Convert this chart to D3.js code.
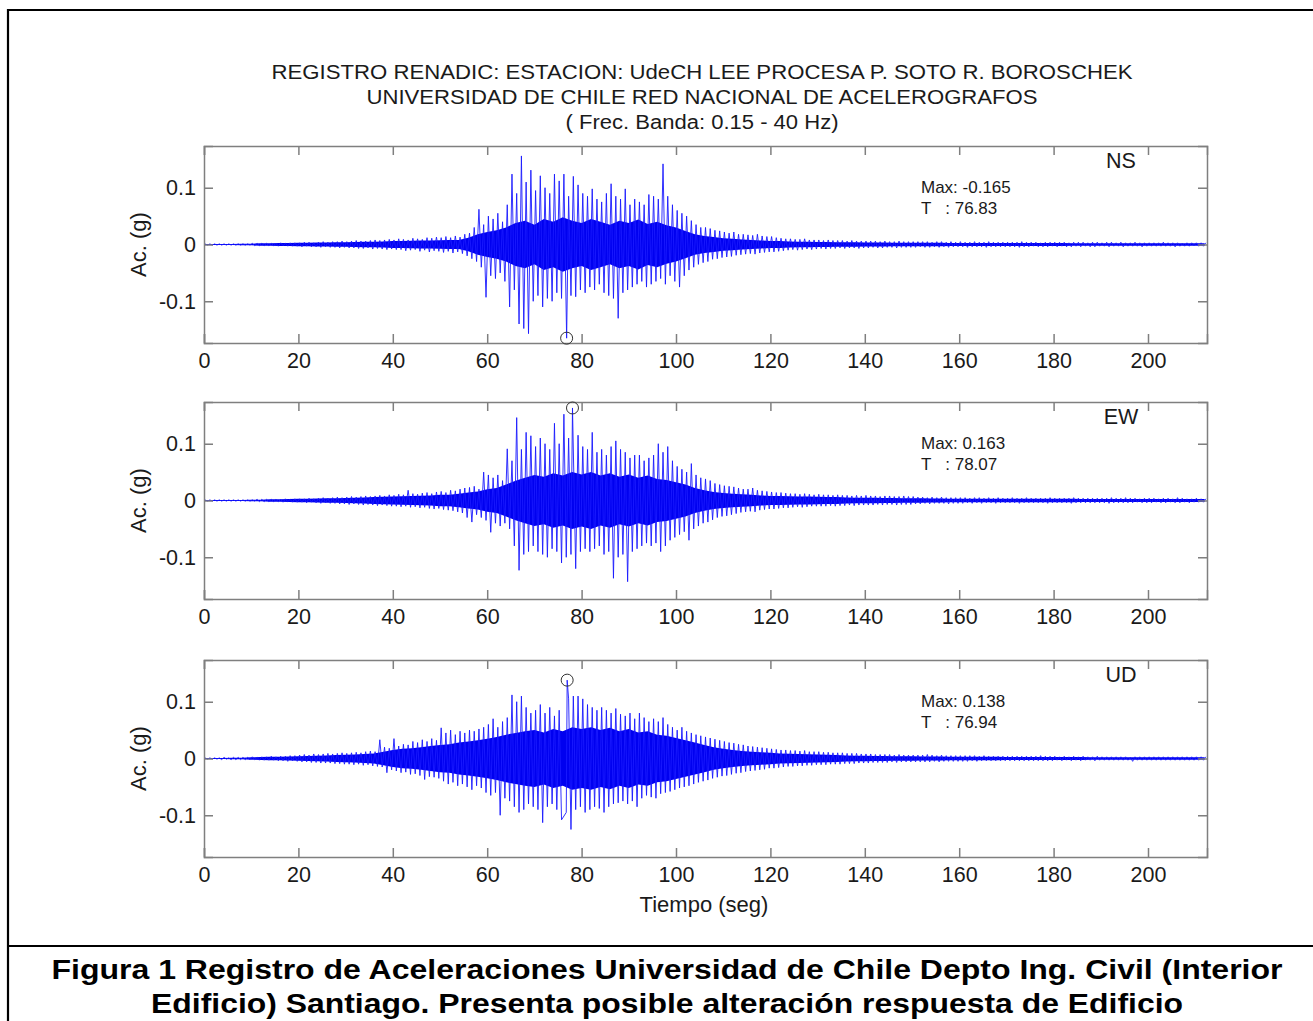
<!DOCTYPE html>
<html>
<head>
<meta charset="utf-8">
<script src="https://cdn.jsdelivr.net/npm/d3@7"></script>
<style>
  body { margin: 0; background: #fff; }
  text { font-family: "Liberation Sans", Arial, sans-serif; }
</style>
</head>
<body>
<svg id="fig" width="1313" height="1021"></svg>
<script>
// envelope of each record, read per second (0..212 s), in thousandths of g
// hi = largest positive peak in that second, lo = largest negative peak (as magnitude)
var nsHi = [1,1,1,1,1,1,1,1,1,1, 2,2,2,2,2,2,3,2,3,3, 3,4,4,3,4,5,4,5,5,6, 5,6,7,6,6,7,8,7,8,9,
  8,10,9,8,11,10,9,12,11,13, 12,14,12,15,13,18,20,30,62,35, 50,45,55,40,70,124,90,156,110,131,
  95,121,100,90,124,112,124,85,120,105, 90,85,98,80,75,90,107,85,80,98, 70,80,75,70,88,85,80,142,85,70,
  60,55,50,42,35,30,30,28,25,24, 22,20,22,18,18,17,16,18,15,14, 14,12,11,10,10,9,9,10,8,8,
  8,7,8,7,7,7,6,7,6,6, 6,6,6,5,6,5,5,6,5,5, 5,5,5,5,4,5,5,4,5,4, 5,4,4,5,4,4,5,4,4,4,
  4,4,4,5,4,4,4,3,4,4, 4,4,4,3,4,4,4,3,4,4, 3,4,4,3,4,3,3,4,3,3, 3,3,3,4,3,3,3,2,3,3,3,3,3];
var nsLo = [1,1,1,1,1,1,1,1,1,1, 2,2,2,2,2,3,2,3,3,3, 4,3,4,4,5,4,5,5,6,5, 6,6,7,7,6,8,7,8,9,8,
  9,9,11,10,9,12,10,13,11,12, 14,12,15,13,16,20,25,30,40,93, 55,60,50,65,110,80,140,148,157,100,
  90,110,95,100,85,95,165,90,92,80, 85,75,80,70,85,90,95,130,85,80, 75,70,65,75,70,65,60,70,55,65,
  75,55,45,40,35,32,30,26,25,23, 22,21,19,18,17,16,17,15,14,13, 13,12,11,10,9,10,9,8,9,8,
  7,8,7,7,6,7,6,6,7,6, 6,5,6,6,5,5,6,5,5,5, 5,4,5,5,4,5,4,5,4,4, 4,5,4,4,4,5,4,4,4,4,
  4,4,5,4,4,3,4,4,4,3, 4,3,4,4,3,4,3,4,4,3, 3,4,3,3,4,3,3,3,4,3, 3,3,3,3,3,4,3,3,3,2,3,3,3];

var ewHi = [1,1,1,1,1,1,1,1,1,1, 1,2,2,2,2,2,2,3,2,3, 3,3,4,3,4,5,4,5,6,5, 6,7,6,7,8,7,8,9,8,10,
  9,11,10,18,12,11,13,14,12,15, 16,14,18,17,20,22,23,25,20,50, 45,40,45,35,91,70,146,90,120,114,
  95,110,100,90,136,100,152,110,163,115, 95,90,120,85,90,80,95,105,90,85, 75,80,80,70,75,80,100,85,95,70,
  60,55,50,65,45,40,38,35,30,28, 26,25,24,22,20,20,22,18,17,16, 15,14,14,13,12,12,11,12,11,10,
  11,10,10,9,10,9,9,8,9,8, 9,8,8,7,8,8,7,7,8,7, 7,6,6,5,6,5,6,5,5,5, 5,5,4,5,5,4,5,4,5,4,
  4,5,4,4,5,4,4,4,4,5, 4,4,4,4,5,4,4,4,4,4, 4,4,5,4,4,5,4,4,3,4, 4,4,3,4,4,3,5,4,3,3,4,3,3];
var ewLo = [1,1,1,1,1,1,1,1,1,1, 1,2,2,2,2,2,3,2,3,3, 3,4,3,4,5,4,5,5,6,6, 7,6,7,8,7,8,9,8,9,10,
  10,11,10,12,11,13,12,14,15,14, 16,17,18,20,22,30,38,25,30,35, 56,40,45,40,50,80,123,95,90,80,
  90,95,100,85,90,110,100,95,120,90, 85,90,85,80,95,90,137,100,95,143, 90,85,80,75,80,75,90,80,70,65,
  60,55,70,50,45,40,38,34,30,28, 27,25,23,21,20,19,20,17,16,15, 15,14,13,13,12,11,12,11,10,10,
  10,10,9,10,9,9,8,9,8,8, 8,8,7,8,7,7,8,7,7,7, 6,6,5,6,5,5,5,6,5,5, 5,4,5,4,5,4,4,5,4,4,
  4,4,5,4,4,4,4,4,5,4, 4,4,4,5,4,4,4,4,4,4, 4,5,4,4,4,4,4,3,4,4, 4,3,4,4,3,4,4,3,4,3,3,3,3];

var udHi = [1,1,1,1,2,1,2,2,2,2, 3,2,3,3,4,3,4,4,5,5, 6,7,6,8,7,8,9,8,9,10, 9,10,11,10,12,13,12,33,20,18,
  35,22,25,24,30,28,33,30,35,32, 54,45,50,42,48,45,50,48,52,55, 60,70,55,65,72,112,100,110,90,80,
  85,95,80,90,75,85,138,105,110,110, 105,95,90,85,90,85,80,88,78,75, 80,70,80,72,65,70,65,72,60,55,
  50,55,48,45,42,40,38,36,34,32, 30,28,27,25,24,22,21,20,19,18, 17,16,15,15,14,14,13,14,12,12,
  12,11,11,10,10,10,9,9,9,8, 8,8,7,7,7,7,6,7,6,6, 6,6,6,7,6,5,6,5,5,5, 5,5,5,5,4,5,4,4,4,4,
  4,4,4,4,4,4,4,5,4,4, 4,3,4,3,4,3,4,3,3,4, 3,3,3,3,3,3,2,3,3,3, 3,3,3,3,3,3,3,3,3,3,3,3,3];
var udLo = [1,1,1,2,1,2,2,2,2,2, 2,3,3,3,3,4,4,5,4,5, 6,6,7,7,8,8,8,9,9,10, 10,11,10,12,11,13,14,15,25,20,
  22,25,24,28,27,30,37,32,33,35, 40,45,42,48,45,50,55,48,52,60, 65,60,100,70,75,85,95,90,80,85,
  90,113,85,80,90,108,95,125,90,85, 95,90,85,88,95,85,80,78,75,80, 75,85,70,65,68,70,62,60,58,55,
  52,50,48,45,42,40,38,35,33,31, 30,28,26,25,23,22,21,20,19,17, 17,16,15,14,14,13,13,12,12,11,
  11,11,10,10,10,9,9,9,8,8, 8,7,7,7,7,6,7,6,6,6, 6,6,6,6,5,6,5,5,5,5, 5,5,4,5,4,4,4,4,4,4,
  4,4,4,4,4,4,4,4,4,4, 3,4,3,4,3,4,3,3,4,3, 3,3,3,3,3,3,5,3,3,3, 3,3,3,3,3,3,3,3,3,3,3,3,3];

// half width of the solid (densely sampled) core of each trace, every 2 s from 0 to 212 s, thousandths of g
var nsCore = [1,1,1,1,1.5,1.5,2,2,2.5,2.5, 3,3,3.5,3.5,4,4,4.5,5,5,5.5, 6,6,6.5,7,7,7.5,8,8,12,18,
  22,25,30,38,42,35,45,40,48,42, 38,45,40,35,42,38,44,36,40,34, 30,24,18,15,13,11,10,9,8,7,
  6,6,5.5,5,5,4.5,4.5,4,4,4, 3.5,3.5,3.5,3,3,3,3,3,3,2.5, 2.5,2.5,2.5,2.5,2.5,2.5,2.5,2.5,2.5,2.5,
  2.5,2.5,2,2,2,2,2,2,2,2, 2,2,2,2,2,2,2];
var ewCore = [1,1,1,1,1,1.5,1.5,2,2,2.5, 3,3,3.5,4,4,4.5,5,5.5,6,6.5, 7,7.5,8,8.5,9,10,10,12,14,16,
  20,22,28,35,40,45,42,48,44,50, 46,50,44,48,42,46,40,44,38,36, 32,28,22,18,15,13,12,11,10,9,
  8,8,7.5,7,7,6.5,6,6,5.5,5, 5,5,4.5,4.5,4,4,4,3.5,3.5,3, 3,3,3,3,3,3,3,3,3,3,
  3,3,3,2.5,2.5,2.5,2.5,2.5,2.5,2.5, 2.5,2.5,2.5,2.5,2.5,2.5,2.5];
var udCore = [1,1,1,1.5,1.5,2,2.5,3,3,3.5, 4,4.5,5,5.5,6,6.5,7,8,9,12, 15,17,18,20,22,24,25,28,30,32,
  35,38,42,45,48,50,46,52,48,55, 52,55,50,54,48,52,46,48,42,40, 36,32,28,24,20,17,15,13,12,11,
  10,9,8.5,8,7.5,7,6.5,6,5.5,5, 5,4.5,4.5,4,4,4,3.5,3.5,3.5,3, 3,3,3,3,3,2.5,2.5,2.5,2.5,2.5,
  2.5,2.5,2.5,2.5,2,2,2,2,2,2, 2,2,2,2,2,2,2];

var componentes = ["NS", "EW", "UD"];
var peakValues = [-0.165, 0.163, 0.138];
var peakTimes = [76.83, 78.07, 76.94];
var xTicks = [0, 20, 40, 60, 80, 100, 120, 140, 160, 180, 200];
var yTicks = [-0.1, 0, 0.1];
var titulo = [
  "REGISTRO RENADIC: ESTACION: UdeCH LEE PROCESA P. SOTO R. BOROSCHEK",
  "UNIVERSIDAD DE CHILE RED NACIONAL DE ACELEROGRAFOS",
  "( Frec. Banda: 0.15 - 40 Hz)"
];
var leyenda = [
  "Figura 1 Registro de Aceleraciones Universidad de Chile Depto Ing. Civil (Interior",
  "Edificio) Santiago. Presenta posible alteración respuesta de Edificio"
];

var envelopes = [[nsHi, nsLo], [ewHi, ewLo], [udHi, udLo]];
var cores = [nsCore, ewCore, udCore];

var svg = d3.select("#fig");
var axisColor = "#7f7f7f";
var textColor = "#1a1a1a";

// outer frame of the figure box
svg.append("path").attr("d", "M8,1021V10H1313").attr("fill", "none").attr("stroke", "#000").attr("stroke-width", 2.2);
svg.append("line").attr("x1", 8).attr("x2", 1313).attr("y1", 946).attr("y2", 946).attr("stroke", "#000").attr("stroke-width", 2.2);

// the original figure is a little wider than the font, so stretch the long lines
var tituloAncho = [861, 671, 273];
svg.selectAll(".titulo").data(titulo).enter().append("text")
  .attr("class", "titulo")
  .attr("x", 702).attr("y", (d, i) => 79 + i * 25)
  .attr("text-anchor", "middle")
  .attr("font-size", 20).attr("fill", textColor)
  .attr("textLength", (d, i) => tituloAncho[i]).attr("lengthAdjust", "spacingAndGlyphs")
  .text(d => d);

var tMax = 212.5;
var x = d3.scaleLinear().domain([0, tMax]).range([204, 1207]);
var panelTops = [146, 402, 660];
var panelH = 197;

// turn the per-second envelope into one zigzag trace
function traza(hi, lo, k) {
  var pts = [];
  hi.forEach((v, i) => {
    pts.push([i + 0.25, v / 1000]);
    pts.push([i + 0.75, -lo[i] / 1000]);
  });
  // the peak sample sits at its real time
  var pico = pts.find(p => Math.abs(p[1] - peakValues[k]) < 1e-9);
  if (pico) pico[0] = peakTimes[k];
  pts.sort((a, b) => a[0] - b[0]);
  return pts.filter(p => p[0] <= tMax);
}

function fmtY(d) {
  return d === 0 ? "0" : d.toFixed(1);
}

componentes.forEach((comp, k) => {
  var top = panelTops[k];
  var y = d3.scaleLinear().domain([-0.1735, 0.1735]).range([top + panelH, top]);
  var g = svg.append("g");

  // solid core of the record
  var area = d3.area().x((d, i) => x(i * 2)).y0(d => y(-d / 1000)).y1(d => y(d / 1000));
  g.append("path").datum(cores[k]).attr("d", area).attr("fill", "#0000f0");

  var linea = d3.line().x(d => x(d[0])).y(d => y(d[1]));
  g.append("path")
    .datum(traza(envelopes[k][0], envelopes[k][1], k))
    .attr("d", linea)
    .attr("fill", "none").attr("stroke", "#1a1aff").attr("stroke-width", 0.9).attr("stroke-linejoin", "bevel");

  // box with inward ticks on every side
  var ax = [
    g.append("g").attr("transform", "translate(0," + (top + panelH) + ")")
      .call(d3.axisBottom(x).tickValues(xTicks).tickSize(-9).tickPadding(10).tickFormat(d3.format("d"))),
    g.append("g").attr("transform", "translate(0," + top + ")")
      .call(d3.axisTop(x).tickValues(xTicks).tickSize(-9).tickFormat("")),
    g.append("g").attr("transform", "translate(204,0)")
      .call(d3.axisLeft(y).tickValues(yTicks).tickSize(-9).tickPadding(8).tickFormat(fmtY)),
    g.append("g").attr("transform", "translate(1207,0)")
      .call(d3.axisRight(y).tickValues(yTicks).tickSize(-9).tickFormat(""))
  ];
  ax.forEach(a => {
    a.select(".domain").attr("stroke", axisColor).attr("stroke-width", 1.5);
    a.selectAll(".tick line").attr("stroke", axisColor).attr("stroke-width", 1.5);
    a.selectAll(".tick text").attr("fill", textColor).attr("font-size", 21.5);
  });

  g.append("text")
    .attr("transform", "translate(146," + (top + panelH / 2) + ") rotate(-90)")
    .attr("text-anchor", "middle").attr("font-size", 22).attr("fill", textColor)
    .text("Ac. (g)");

  g.append("text").attr("x", 1121).attr("y", top + 22)
    .attr("text-anchor", "middle").attr("font-size", 21.5).attr("fill", textColor)
    .text(comp);

  g.append("text").attr("x", 921).attr("y", top + 47)
    .attr("font-size", 17).attr("fill", textColor)
    .text("Max: " + peakValues[k]);
  g.append("text").attr("x", 921).attr("y", top + 68)
    .attr("font-size", 17).attr("fill", textColor).attr("xml:space", "preserve")
    .text("T   : " + peakTimes[k]);

  g.append("circle")
    .attr("cx", x(peakTimes[k])).attr("cy", y(peakValues[k])).attr("r", 6)
    .attr("fill", "none").attr("stroke", "#333").attr("stroke-width", 1);
});

svg.append("text").attr("x", 704).attr("y", 912)
  .attr("text-anchor", "middle").attr("font-size", 22).attr("fill", textColor)
  .text("Tiempo (seg)");

var leyendaAncho = [1231, 1032];
svg.selectAll(".leyenda").data(leyenda).enter().append("text")
  .attr("class", "leyenda")
  .attr("x", 667).attr("y", (d, i) => 979 + i * 34)
  .attr("text-anchor", "middle")
  .attr("font-size", 27).attr("font-weight", "bold").attr("fill", "#000")
  .attr("textLength", (d, i) => leyendaAncho[i]).attr("lengthAdjust", "spacingAndGlyphs")
  .text(d => d);
</script>
</body>
</html>
